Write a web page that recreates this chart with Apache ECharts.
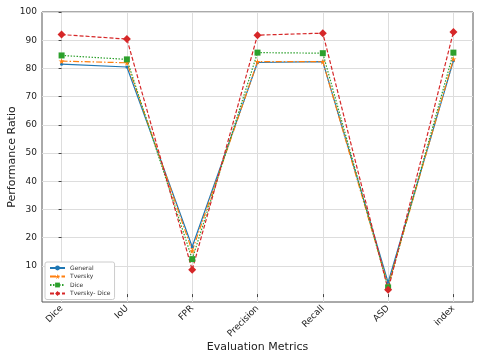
<!DOCTYPE html>
<html>
<head>
<meta charset="utf-8">
<title>Performance Ratio</title>
<script src="https://cdn.jsdelivr.net/npm/echarts@6/dist/echarts.min.js"></script>
<style>
  html, body { margin: 0; padding: 0; background: #fff; }
  #chart { width: 480px; height: 357px; }
</style>
</head>
<body>
<div id="chart"></div>
<script>
var metrics = ['Dice', 'IoU', 'FPR', 'Precision', 'Recall', 'ASD', 'index'];
var general = [81.5, 80.5, 16.8, 82.1, 82.4, 4.1, 82.7];
var tversky = [82.6, 82.0, 15.3, 82.4, 82.4, 3.0, 83.3];
var dice = [84.6, 83.2, 12.4, 85.6, 85.4, 2.4, 85.6];
var tverskyDice = [92.0, 90.4, 8.6, 91.8, 92.5, 1.5, 92.9];
var yTicks = [10, 20, 30, 40, 50, 60, 70, 80, 90, 100];

var starPath = 'path://M50,0 L61,35 L98,35 L68,57 L79,91 L50,70 L21,91 L32,57 L2,35 L39,35 Z';

function pts(arr) {
  return arr.map(function (v, i) { return [i, v]; });
}

function makeSeries(name, data, color, dash, symbol, size) {
  return {
    name: name,
    type: 'line',
    data: pts(data),
    symbol: symbol,
    symbolSize: size,
    itemStyle: { color: color },
    lineStyle: { color: color, width: 1.2, type: dash },
    emphasis: { disabled: true },
    animation: false
  };
}

var myChart = echarts.init(document.getElementById('chart'));
myChart.setOption({
  animation: false,
  grid: {
    left: 42, right: 7, top: 12, bottom: 55,
    outerBoundsMode: 'none', containLabel: false,
    show: true, borderColor: '#555', borderWidth: 1
  },
  legend: {
    left: 45, top: 262,
    orient: 'vertical',
    itemWidth: 15, itemHeight: 6, itemGap: 2.5,
    padding: [3, 4],
    borderColor: '#ccc', borderWidth: 1, borderRadius: 2,
    backgroundColor: '#fff',
    textStyle: { fontSize: 6, color: '#333', fontFamily: 'DejaVu Sans' },
    data: ['General', 'Tversky', 'Dice', 'Tversky- Dice']
  },
  xAxis: {
    type: 'value',
    min: -0.3, max: 6.3,
    name: 'Evaluation Metrics',
    nameLocation: 'middle',
    nameMoveOverlap: false,
    nameGap: 40,
    nameTextStyle: { fontSize: 11, color: '#222', fontFamily: 'DejaVu Sans' },
    axisLine: { show: false },
    axisTick: { customValues: [0, 1, 2, 3, 4, 5, 6], length: 3, lineStyle: { color: '#444' } },
    axisLabel: {
      customValues: [0, 1, 2, 3, 4, 5, 6],
      rotate: 45, fontSize: 9, color: '#222', fontFamily: 'DejaVu Sans', margin: 5,
      formatter: function (v) { return metrics[Math.round(v)]; }
    },
    splitLine: { show: true, lineStyle: { color: '#ddd', width: 1 } }
  },
  yAxis: {
    type: 'value',
    min: -2.8, max: 100,
    name: 'Performance Ratio',
    nameLocation: 'middle',
    nameMoveOverlap: false,
    nameGap: 24,
    nameTextStyle: { fontSize: 11, color: '#222', fontFamily: 'DejaVu Sans' },
    axisLine: { show: false },
    axisTick: { customValues: yTicks, length: 3, lineStyle: { color: '#444' } },
    axisLabel: { customValues: yTicks, fontSize: 9, color: '#222', fontFamily: 'DejaVu Sans', margin: 5 },
    splitLine: { show: true, lineStyle: { color: '#ddd', width: 1 } }
  },
  series: [
    makeSeries('General', general, '#1f77b4', 'solid', 'circle', 3),
    makeSeries('Tversky', tversky, '#ff7f0e', [6, 2, 1.5, 2], starPath, 6),
    makeSeries('Dice', dice, '#2ca02c', [1.5, 1.5], 'rect', 6),
    makeSeries('Tversky- Dice', tverskyDice, '#d62728', [4, 2], 'diamond', 8)
  ]
});
</script>
</body>
</html>
